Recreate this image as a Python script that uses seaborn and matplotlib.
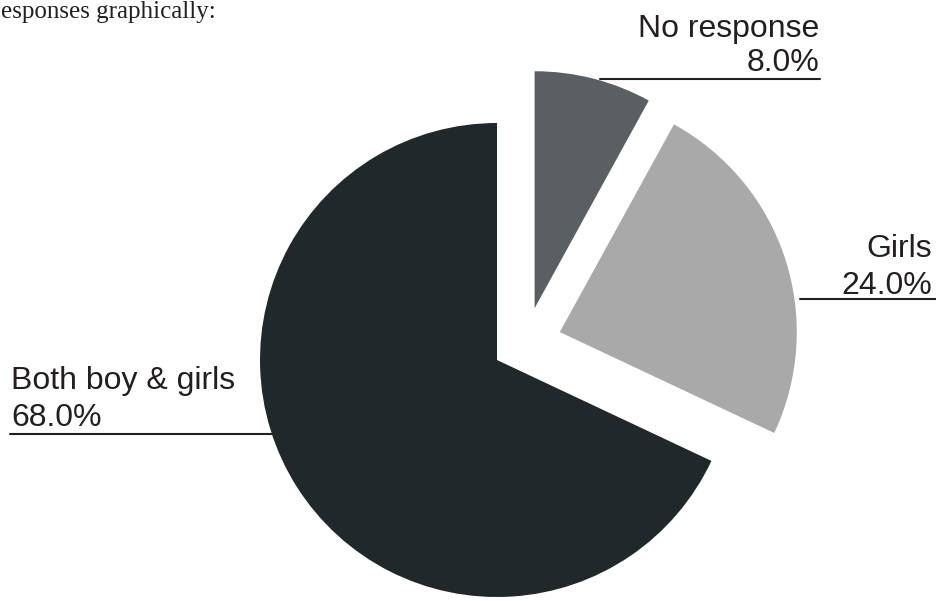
import matplotlib
matplotlib.use("Agg")
import matplotlib.pyplot as plt
import seaborn as sns
import numpy as np
from matplotlib.lines import Line2D

# data
labels = ["Both boy & girls", "Girls", "No response"]
shares = [68.0, 24.0, 8.0]

sns.set_theme(style="white")
plt.rcParams['font.family'] = ['Liberation Sans', 'DejaVu Sans']
colors = sns.color_palette(["#212829", "#a9a9a9", "#5a5f61"])

W, H = 936, 601
fig = plt.figure(figsize=(W / 100, H / 100), dpi=100)
ax = fig.add_axes([0, 0, 1, 1])

wedges, _ = ax.pie(shares, colors=colors, startangle=90, counterclock=True,
                   radius=1, wedgeprops=dict(linewidth=0))

# pulled-out slices: (distance in radii, direction in degrees)
pull = [(0, 0), (0.29, 24), (0.27, 54)]
for w, (d, a) in zip(wedges, pull):
    w.set_center((d * np.cos(np.radians(a)), d * np.sin(np.radians(a))))

# pie centre at (497, 360) px, radius 237 px
cx, cy, r = 497, 360, 237
ax.set_xlim(-cx / r, (W - cx) / r)
ax.set_ylim(-(H - cy) / r, cy / r)
ax.axis('off')


def px(x, y):
    return x / W, 1 - y / H


def label(lines, x, ys, ha):
    for txt, y in zip(lines, ys):
        fig.text(*px(x, y), txt, ha=ha, va='baseline', fontsize=23, color='#231f20')


def leader(x0, x1, y):
    fig.add_artist(Line2D([x0 / W, x1 / W], [1 - y / H, 1 - y / H],
                          color='#231f20', lw=1.5))


label([labels[2], f"{shares[2]:.1f}%"], 819, [37, 71], 'right')
leader(600, 820, 79)

label([labels[1], f"{shares[1]:.1f}%"], 932, [257, 294], 'right')
leader(800, 936, 299)

label([labels[0], f"{shares[0]:.1f}%"], 11, [389, 426], 'left')
leader(10, 272, 434)

fig.text(*px(1, 18), "esponses graphically:", ha='left', va='baseline',
         fontsize=18, family=['Liberation Serif', 'DejaVu Serif'], color='#231f20')

fig.savefig("out.png", dpi=100)
